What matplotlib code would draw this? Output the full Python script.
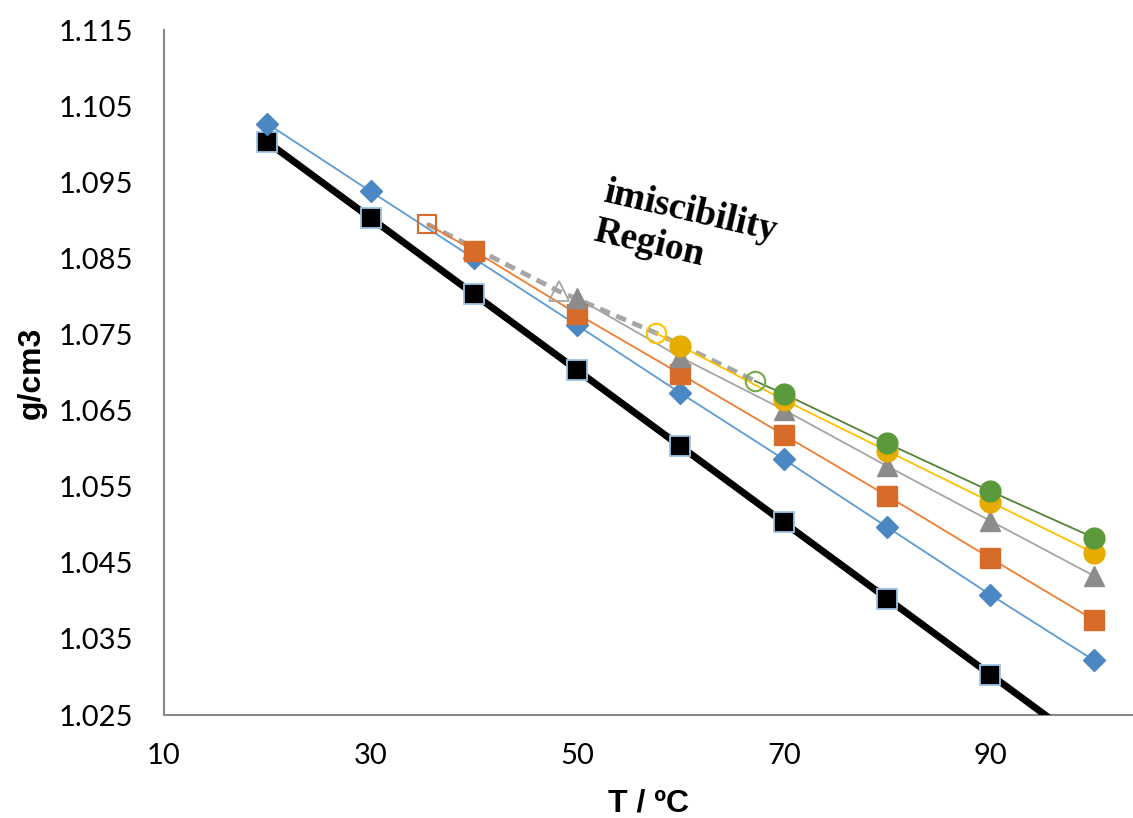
import matplotlib
matplotlib.use("Agg")
import matplotlib.pyplot as plt

# density (g/cm3) vs temperature for each mixture
t_black = [20, 30, 40, 50, 60, 70, 80, 90, 100]
d_black = [1.1003, 1.0903, 1.0803, 1.0703, 1.0603, 1.0503, 1.0403, 1.0303, 1.0203]

t_blue = [20, 30, 40, 50, 60, 70, 80, 90, 100]
d_blue = [1.1027, 1.0938, 1.0850, 1.0762, 1.0673, 1.0586, 1.0497, 1.0408, 1.0322]

t_orange = [40, 50, 60, 70, 80, 90, 100]
d_orange = [1.0860, 1.0777, 1.0698, 1.0618, 1.0538, 1.0456, 1.0375]

t_gray = [50, 60, 70, 80, 90, 100]
d_gray = [1.0798, 1.0720, 1.0651, 1.0577, 1.0505, 1.0433]

t_yellow = [60, 70, 80, 90, 100]
d_yellow = [1.0735, 1.0664, 1.0597, 1.0530, 1.0463]

t_green = [70, 80, 90, 100]
d_green = [1.0672, 1.0607, 1.0544, 1.0483]

# onset of miscibility (open markers), orange / gray / yellow / green
t_onset = [35.5, 48.2, 57.6, 67.2]
d_onset = [1.0895, 1.0807, 1.0752, 1.0689]

xticks = [10, 30, 50, 70, 90]
yticks = [1.025, 1.035, 1.045, 1.055, 1.065, 1.075, 1.085, 1.095, 1.105, 1.115]

c_blue = "#4a87c3"
c_orange = "#d76b2a"
c_gray = "#8c8c8c"
c_yellow = "#e6ac00"
c_green = "#5b9a3c"

fig = plt.figure(figsize=(11.33, 8.18), dpi=100)
ax = fig.add_axes([0.1447, 0.1259, 0.8553, 0.8374])

ax.plot(t_onset, d_onset, color="#a6a6a6", lw=3.5, ls=(0, (2.2, 1.4)), zorder=2)

ax.plot(t_black, d_black, color="black", lw=5, zorder=3)
ax.plot(t_black, d_black, ls="none", marker="s", ms=15, mfc="black",
        mec="#9dc3e6", mew=1.3, zorder=4)

ax.plot(t_blue, d_blue, color="#5b9bd5", lw=1.3, marker="D", ms=11,
        mfc=c_blue, mec=c_blue, zorder=4)

ax.plot([t_onset[0]] + t_orange, [d_onset[0]] + d_orange, color="#ed7d31", lw=1.3, zorder=3)
ax.plot(t_orange, d_orange, ls="none", marker="s", ms=14, mfc=c_orange, mec=c_orange, zorder=5)
ax.plot(t_onset[0], d_onset[0], marker="s", ms=13, mfc="none", mec=c_orange, mew=1.5, zorder=5)

ax.plot(t_gray, d_gray, color="#a5a5a5", lw=1.3, zorder=3)
ax.plot(t_gray, d_gray, ls="none", marker="^", ms=15, mfc=c_gray, mec=c_gray, zorder=6)
ax.plot(t_onset[1], d_onset[1], marker="^", ms=14, mfc="none", mec="#a5a5a5", mew=1.3, zorder=6)

ax.plot([t_onset[2]] + t_yellow, [d_onset[2]] + d_yellow, color="#ffc000", lw=1.3, zorder=3)
ax.plot(t_yellow, d_yellow, ls="none", marker="o", ms=15, mfc=c_yellow, mec=c_yellow, zorder=7)
ax.plot(t_onset[2], d_onset[2], marker="o", ms=14, mfc="none", mec="#ffc000", mew=1.5, zorder=7)

ax.plot([t_onset[3]] + t_green, [d_onset[3]] + d_green, color="#548235", lw=1.3, zorder=3)
ax.plot(t_green, d_green, ls="none", marker="o", ms=15, mfc=c_green, mec=c_green, zorder=8)
ax.plot(t_onset[3], d_onset[3], marker="o", ms=14, mfc="none", mec="#70ad47", mew=1.5, zorder=8)

ax.set_xlim(10, 103.8)
ax.set_ylim(1.025, 1.115)
ax.set_xticks(xticks)
ax.set_yticks(yticks)
ax.set_xticklabels([str(v) for v in xticks])
ax.set_yticklabels([f"{v:.3f}" for v in yticks])
ax.tick_params(length=0, labelsize=21)
ax.tick_params(axis="y", pad=22)
ax.tick_params(axis="x", pad=20)
for lab in ax.get_xticklabels() + ax.get_yticklabels():
    lab.set_fontfamily("Lato")

for s in ["top", "right"]:
    ax.spines[s].set_visible(False)
for s in ["left", "bottom"]:
    ax.spines[s].set_color("#898989")
    ax.spines[s].set_linewidth(1.5)

ax.set_ylabel("g/cm3", fontsize=23, fontweight="bold", family="Liberation Sans")
ax.yaxis.set_label_coords(-0.121, 0.5)
ax.set_xlabel("T / ºC", fontsize=23, fontweight="bold", family="Liberation Sans")
ax.xaxis.set_label_coords(0.5, -0.108)

ax.text(0.449, 0.735, "imiscibility\nRegion", transform=ax.transAxes, rotation=-13,
        rotation_mode="anchor", ha="left", va="center", multialignment="left",
        fontsize=27, fontweight="bold", family="Liberation Serif", linespacing=1.2)

fig.savefig("out.png", dpi=100)
